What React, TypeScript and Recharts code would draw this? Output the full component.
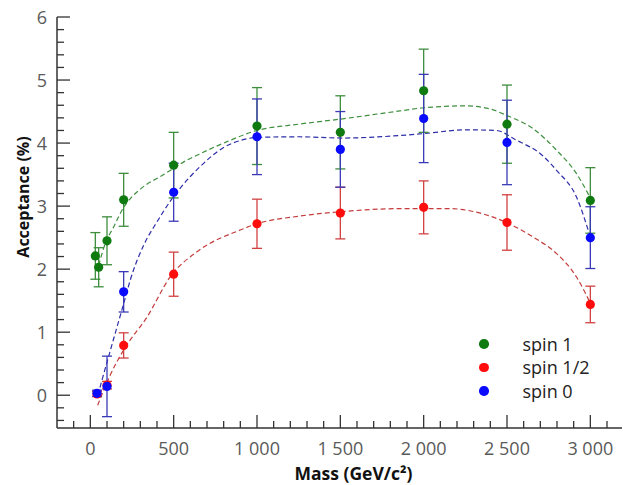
import React from "react";
import {
  ComposedChart,
  Line,
  Scatter,
  ErrorBar,
  XAxis,
  YAxis,
  Legend,
  Label,
} from "recharts";

// measured points (mass in GeV/c², acceptance in %)
const spin1Mass = [30, 50, 100, 200, 500, 1000, 1500, 2000, 2500, 3000];
const spin1Acc = [2.21, 2.03, 2.45, 3.1, 3.65, 4.27, 4.17, 4.83, 4.3, 3.09];
const spin1Err = [0.37, 0.31, 0.38, 0.42, 0.52, 0.61, 0.58, 0.66, 0.62, 0.52];

const spinHalfMass = [40, 100, 200, 500, 1000, 1500, 2000, 2500, 3000];
const spinHalfAcc = [0.02, 0.16, 0.79, 1.92, 2.72, 2.89, 2.98, 2.74, 1.44];
const spinHalfErr = [0.04, 0.06, 0.2, 0.35, 0.39, 0.41, 0.42, 0.44, 0.29];

const spin0Mass = [40, 100, 200, 500, 1000, 1500, 2000, 2500, 3000];
const spin0Acc = [0.03, 0.14, 1.64, 3.22, 4.1, 3.9, 4.39, 4.01, 2.5];
const spin0Err = [0.05, 0.48, 0.32, 0.46, 0.6, 0.6, 0.7, 0.67, 0.49];

// dashed fit curves
const fit1Mass = [50, 90, 140, 200, 240, 300, 440, 580, 650, 800, 1000, 1250, 1500, 1857, 2000, 2257, 2400, 2497, 2656, 2796, 2916, 3000];
const fit1Acc = [2.06, 2.41, 2.67, 2.98, 3.12, 3.27, 3.5, 3.73, 3.82, 4.0, 4.2, 4.3, 4.38, 4.51, 4.56, 4.59, 4.54, 4.44, 4.23, 3.89, 3.52, 3.13];

const fitHalfMass = [44, 114, 205, 340, 480, 653, 899, 1000, 1250, 1500, 1857, 2157, 2350, 2497, 2656, 2796, 2916, 3000];
const fitHalfAcc = [-0.16, 0.29, 0.74, 1.24, 1.88, 2.3, 2.62, 2.72, 2.84, 2.91, 2.96, 2.96, 2.88, 2.74, 2.51, 2.25, 1.88, 1.46];

const fit0Mass = [45, 70, 120, 205, 240, 320, 400, 480, 600, 660, 800, 900, 1000, 1250, 1516, 1857, 2000, 2257, 2437, 2546, 2714, 2800, 2916, 3000];
const fit0Acc = [0.0, 0.24, 0.71, 1.5, 1.83, 2.38, 2.75, 3.08, 3.47, 3.63, 3.93, 4.04, 4.09, 4.1, 4.08, 4.12, 4.15, 4.21, 4.2, 4.06, 3.8, 3.56, 3.15, 2.51];

// legend order as in the figure
const legendOrder = ["spin 1", "spin 1/2", "spin 0"];

// axis ticks
const xMajorTicks = [0, 500, 1000, 1500, 2000, 2500, 3000];
const xAllTicks = [-100, 0, 100, 200, 300, 400, 500, 600, 700, 800, 900, 1000, 1100, 1200, 1300, 1400, 1500, 1600, 1700, 1800, 1900, 2000, 2100, 2200, 2300, 2400, 2500, 2600, 2700, 2800, 2900, 3000, 3100];
const yMajorTicks = [0, 1, 2, 3, 4, 5, 6];
const yAllTicks = [-0.4, -0.2, 0, 0.2, 0.4, 0.6, 0.8, 1, 1.2, 1.4, 1.6, 1.8, 2, 2.2, 2.4, 2.6, 2.8, 3, 3.2, 3.4, 3.6, 3.8, 4, 4.2, 4.4, 4.6, 4.8, 5, 5.2, 5.4, 5.6, 5.8, 6];

const FONT = "'Open Sans', sans-serif";
const AXIS = "#333";
const TICK_TEXT = "#5a5a5a";

const toRows = (xs: number[], ys: number[], errs?: number[]) =>
  xs.map((x, i) => ({ x, y: ys[i], err: errs ? errs[i] : 0 }));

const spin1Data = toRows(spin1Mass, spin1Acc, spin1Err);
const spinHalfData = toRows(spinHalfMass, spinHalfAcc, spinHalfErr);
const spin0Data = toRows(spin0Mass, spin0Acc, spin0Err);
const fit1Data = toRows(fit1Mass, fit1Acc);
const fitHalfData = toRows(fitHalfMass, fitHalfAcc);
const fit0Data = toRows(fit0Mass, fit0Acc);

const isMajor = (list: number[], v: number) => list.some((m) => Math.abs(m - v) < 1e-6);
const fmt = (v: number) => String(v).replace(/\B(?=(\d{3})+(?!\d))/g, " ");

const BottomTick = (props: any) => {
  const { x, y, payload } = props;
  const major = isMajor(xMajorTicks, payload.value);
  return (
    <g>
      <line x1={x} y1={y} x2={x} y2={y - (major ? 13 : 7)} stroke={AXIS} strokeWidth={1.3} />
      {major && (
        <text x={x} y={y + 27} textAnchor="middle" fill={TICK_TEXT} fontSize={18} fontFamily={FONT}>
          {fmt(payload.value)}
        </text>
      )}
    </g>
  );
};

const TopTick = (props: any) => {
  const { x, y, payload } = props;
  const major = isMajor(xMajorTicks, payload.value);
  return <line x1={x} y1={y} x2={x} y2={y + (major ? 13 : 7)} stroke={AXIS} strokeWidth={1.3} />;
};

const LeftTick = (props: any) => {
  const { x, y, payload } = props;
  const major = isMajor(yMajorTicks, payload.value);
  return (
    <g>
      <line x1={x} y1={y} x2={x + (major ? 13 : 7)} y2={y} stroke={AXIS} strokeWidth={1.3} />
      {major && (
        <text x={x - 10} y={y + 7} textAnchor="end" fill={TICK_TEXT} fontSize={18} fontFamily={FONT}>
          {payload.value}
        </text>
      )}
    </g>
  );
};

const RightTick = (props: any) => {
  const { x, y, payload } = props;
  const major = isMajor(yMajorTicks, payload.value);
  return <line x1={x} y1={y} x2={x - (major ? 13 : 7)} y2={y} stroke={AXIS} strokeWidth={1.3} />;
};

const dot = (color: string) => (props: any) =>
  <circle cx={props.cx} cy={props.cy} r={4.6} fill={color} />;

const LegendBox = (props: any) => {
  const items = (props.payload || [])
    .filter((p: any) => legendOrder.includes(p.value))
    .sort((a: any, b: any) => legendOrder.indexOf(a.value) - legendOrder.indexOf(b.value));
  return (
    <div style={{ fontFamily: FONT, fontSize: 18, color: "#222" }}>
      {items.map((it: any) => (
        <div key={it.value} style={{ display: "flex", alignItems: "center", height: 23.5 }}>
          <span
            style={{
              display: "inline-block",
              width: 9.5,
              height: 9.5,
              borderRadius: "50%",
              background: it.color,
              marginRight: 34,
            }}
          />
          <span>{it.value}</span>
        </div>
      ))}
    </div>
  );
};

export default function App() {
  return (
    <div style={{ position: "absolute", left: 0, top: 0, background: "#fff" }}>
      <ComposedChart width={623} height={485} margin={{ top: 17, right: 1, bottom: 0, left: 0 }}>
        <XAxis
          xAxisId={0}
          dataKey="x"
          type="number"
          domain={[-200, 3190]}
          allowDataOverflow
          ticks={xAllTicks}
          interval={0}
          tick={BottomTick}
          tickSize={0}
          tickMargin={0}
          tickLine={false}
          axisLine={{ stroke: AXIS, strokeWidth: 1.5 }}
          height={57}
        >
          <Label
            content={(p: any) => (
              <text
                x={p.viewBox.x + p.viewBox.width / 2 + 14}
                y={p.viewBox.y + 52}
                textAnchor="middle"
                fontWeight="bold"
                fontSize={17.5}
                fill="#111"
                fontFamily={FONT}
              >
                Mass (GeV/c²)
              </text>
            )}
          />
        </XAxis>
        <XAxis
          xAxisId="top"
          orientation="top"
          type="number"
          domain={[-200, 3190]}
          allowDataOverflow
          ticks={xAllTicks}
          interval={0}
          tick={TopTick}
          tickSize={0}
          tickMargin={0}
          tickLine={false}
          axisLine={{ stroke: AXIS, strokeWidth: 1.5 }}
          height={0}
        />
        <YAxis
          yAxisId={0}
          dataKey="y"
          type="number"
          domain={[-0.52, 6]}
          allowDataOverflow
          ticks={yAllTicks}
          interval={0}
          tick={LeftTick}
          tickSize={0}
          tickMargin={0}
          tickLine={false}
          axisLine={{ stroke: AXIS, strokeWidth: 1.5 }}
          width={57}
        >
          <Label
            content={() => (
              <text
                x={0}
                y={0}
                transform="translate(29 197) rotate(-90)"
                textAnchor="middle"
                fontWeight="bold"
                fontSize={16}
                fill="#111"
                fontFamily={FONT}
              >
                Acceptance (%)
              </text>
            )}
          />
        </YAxis>
        <YAxis
          yAxisId="right"
          orientation="right"
          type="number"
          domain={[-0.52, 6]}
          allowDataOverflow
          ticks={yAllTicks}
          interval={0}
          tick={RightTick}
          tickSize={0}
          tickMargin={0}
          tickLine={false}
          axisLine={{ stroke: AXIS, strokeWidth: 1.5 }}
          width={0}
        />

        <Line data={fit1Data} dataKey="y" type="monotone" stroke="#3f8f3f" strokeWidth={1.2}
          strokeDasharray="5 3" dot={false} legendType="none" isAnimationActive={false} />
        <Line data={fitHalfData} dataKey="y" type="monotone" stroke="#c43c3c" strokeWidth={1.2}
          strokeDasharray="5 3" dot={false} legendType="none" isAnimationActive={false} />
        <Line data={fit0Data} dataKey="y" type="monotone" stroke="#2e2ea8" strokeWidth={1.2}
          strokeDasharray="5 3" dot={false} legendType="none" isAnimationActive={false} />

        <Scatter name="spin 1" data={spin1Data} dataKey="y" fill="#0f7a0f" shape={dot("#0f7a0f")} isAnimationActive={false}>
          <ErrorBar dataKey="err" direction="y" width={5} stroke="#3d8d3d" strokeWidth={1.3} />
        </Scatter>
        <Scatter name="spin 1/2" data={spinHalfData} dataKey="y" fill="#ff0d0d" shape={dot("#ff0d0d")} isAnimationActive={false}>
          <ErrorBar dataKey="err" direction="y" width={5} stroke="#d24141" strokeWidth={1.3} />
        </Scatter>
        <Scatter name="spin 0" data={spin0Data} dataKey="y" fill="#0a0aff" shape={dot("#0a0aff")} isAnimationActive={false}>
          <ErrorBar dataKey="err" direction="y" width={5} stroke="#3a3ab8" strokeWidth={1.3} />
        </Scatter>

        <Legend
          layout="vertical"
          align="center"
          verticalAlign="middle"
          content={LegendBox}
          wrapperStyle={{ left: 479, top: 332, width: 140 }}
        />
      </ComposedChart>
    </div>
  );
}
